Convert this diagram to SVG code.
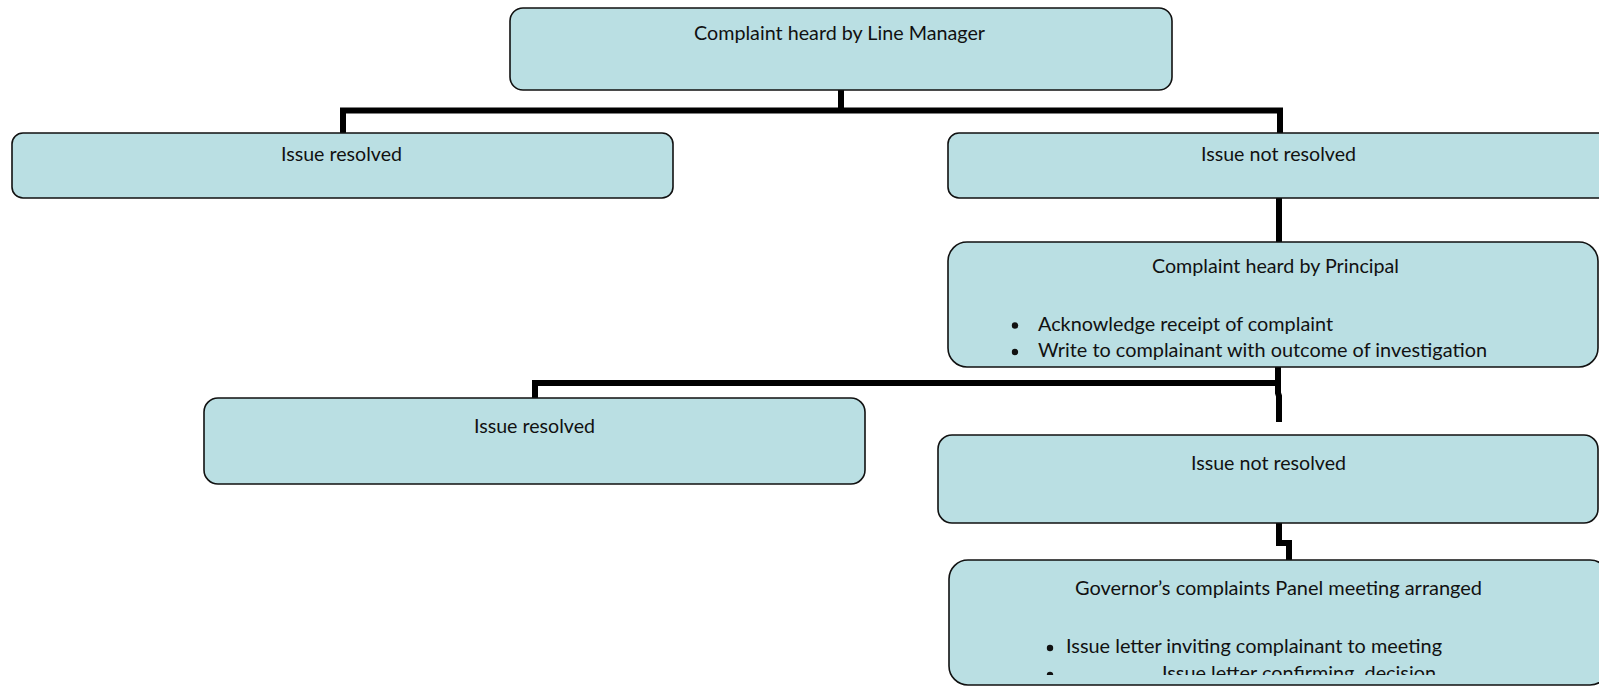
<svg xmlns="http://www.w3.org/2000/svg" width="1599" height="687" viewBox="0 0 1599 687">
  <style>
    .box { fill: #BADFE3; stroke: #111; stroke-width: 1.6; }
    .t { font-family: Lato, "Liberation Sans", sans-serif; font-size: 19px; fill: #111; }
    .conn { fill: none; stroke: #000; stroke-width: 6; stroke-linejoin: miter; stroke-linecap: butt; }
    .dot { fill: #111; }
  </style>
  <defs>
    <clipPath id="clipP"><rect x="948" y="242" width="660" height="118"/></clipPath>
    <clipPath id="clipG"><rect x="949" y="560" width="660" height="115"/></clipPath>
  </defs>

  <g id="connectors">
    <path class="conn" d="M841 90 V110.5 M343 133 V110.5 H1280 V133"/>
    <path class="conn" d="M1279 198 V242"/>
    <path class="conn" d="M1278 367 V393 L1279 396 V422 M535 398 V383 H1281"/>
    <path class="conn" d="M1279 523 V543 H1289 V560"/>
  </g>

  <g id="n1">
    <rect class="box" x="510" y="8" width="662" height="82" rx="13" ry="13"/>
    <text class="t" x="694" y="40" textLength="291" lengthAdjust="spacingAndGlyphs">Complaint heard by Line Manager</text>
  </g>

  <g id="n2">
    <rect class="box" x="12" y="133" width="661" height="65" rx="11" ry="11"/>
    <text class="t" x="281" y="161" textLength="121" lengthAdjust="spacingAndGlyphs">Issue resolved</text>
  </g>

  <g id="n3">
    <rect class="box" x="948" y="133" width="664" height="65" rx="11" ry="11"/>
    <text class="t" x="1201" y="161" textLength="155" lengthAdjust="spacingAndGlyphs">Issue not resolved</text>
  </g>

  <g id="n4">
    <rect class="box" x="948" y="242" width="650" height="125" rx="19" ry="19"/>
    <text class="t" x="1152" y="273" textLength="247" lengthAdjust="spacingAndGlyphs">Complaint heard by Principal</text>
    <g clip-path="url(#clipP)">
      <circle class="dot" cx="1015" cy="325.5" r="3.2"/>
      <text class="t" x="1038" y="331" textLength="295" lengthAdjust="spacingAndGlyphs">Acknowledge receipt of complaint</text>
      <circle class="dot" cx="1015" cy="352" r="3.2"/>
      <text class="t" x="1038" y="357" textLength="449" lengthAdjust="spacingAndGlyphs">Write to complainant with outcome of investigation</text>
    </g>
  </g>

  <g id="n5">
    <rect class="box" x="204" y="398" width="661" height="86" rx="14" ry="14"/>
    <text class="t" x="474" y="433" textLength="121" lengthAdjust="spacingAndGlyphs">Issue resolved</text>
  </g>

  <g id="n6">
    <rect class="box" x="938" y="435" width="660" height="88" rx="14" ry="14"/>
    <text class="t" x="1191" y="470" textLength="155" lengthAdjust="spacingAndGlyphs">Issue not resolved</text>
  </g>

  <g id="n7">
    <rect class="box" x="949" y="560" width="660" height="125" rx="19" ry="19"/>
    <text class="t" x="1075" y="595" textLength="407" lengthAdjust="spacingAndGlyphs">Governor’s complaints Panel meeting arranged</text>
    <g clip-path="url(#clipG)">
      <circle class="dot" cx="1050" cy="648" r="3.2"/>
      <text class="t" x="1066" y="653" textLength="376" lengthAdjust="spacingAndGlyphs">Issue letter inviting complainant to meeting</text>
      <circle class="dot" cx="1050" cy="675" r="3.2"/>
      <text class="t" x="1162" y="680" textLength="274" lengthAdjust="spacingAndGlyphs" xml:space="preserve">Issue letter confirming  decision</text>
    </g>
  </g>
</svg>
